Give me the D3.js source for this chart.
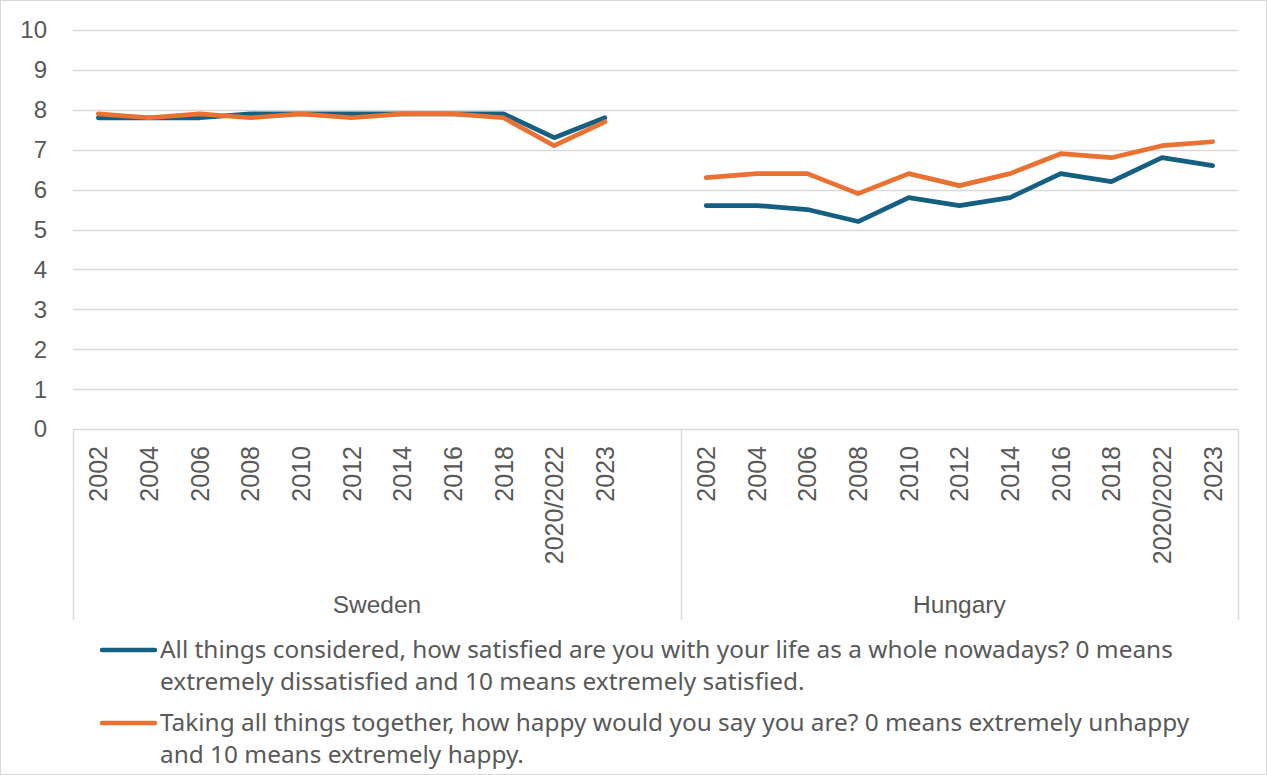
<!DOCTYPE html>
<html>
<head>
<meta charset="utf-8">
<script src="https://cdn.jsdelivr.net/npm/d3@7"></script>
<style>
  html, body { margin: 0; padding: 0; background: #fff; }
  svg { display: block; }
</style>
</head>
<body>
<svg id="chart" width="1267" height="775"></svg>
<script>
// Survey waves per country
const years = ["2002", "2004", "2006", "2008", "2010", "2012", "2014", "2016", "2018", "2020/2022", "2023"];
const countries = ["Sweden", "Hungary"];

// Mean life satisfaction (0-10)
const satisfactionSweden = [7.8, 7.8, 7.8, 7.9, 7.9, 7.9, 7.9, 7.9, 7.9, 7.3, 7.8];
const satisfactionHungary = [5.6, 5.6, 5.5, 5.2, 5.8, 5.6, 5.8, 6.4, 6.2, 6.8, 6.6];

// Mean happiness (0-10)
const happinessSweden = [7.9, 7.8, 7.9, 7.8, 7.9, 7.8, 7.9, 7.9, 7.8, 7.1, 7.7];
const happinessHungary = [6.3, 6.4, 6.4, 5.9, 6.4, 6.1, 6.4, 6.9, 6.8, 7.1, 7.2];

const yTicks = [0, 1, 2, 3, 4, 5, 6, 7, 8, 9, 10];

const seriesNames = [
  ["All things considered, how satisfied are you with your life as a whole nowadays? 0 means",
   "extremely dissatisfied and 10 means extremely satisfied."],
  ["Taking all things together, how happy would you say you are? 0 means extremely unhappy",
   "and 10 means extremely happy."]
];
const colors = ["#156082", "#E97132"];

const svg = d3.select("#chart");
const W = 1267, H = 775;
const plotLeft = 73, plotRight = 1238, plotTop = 30, plotBottom = 429, catBottom = 620;
const gridColor = "#d9d9d9";
const textColor = "#595959";
const axisFont = "'Liberation Sans', Arial, sans-serif";
const axisSize = 25;

// Outer frame
svg.append("rect")
  .attr("x", 0.5).attr("y", 0.5)
  .attr("width", W - 1).attr("height", H - 1)
  .attr("fill", "#fff").attr("stroke", gridColor);

// Category slots: each country's waves, with one empty slot closing the Sweden group
const slots = [];
years.forEach(yr => slots.push("Sweden|" + yr));
slots.push("Sweden|");
years.forEach(yr => slots.push("Hungary|" + yr));

const x = d3.scaleBand().domain(slots).range([plotLeft, plotRight]).paddingInner(0).paddingOuter(0);
const y = d3.scaleLinear().domain([0, 10]).range([plotBottom, plotTop]);

// Horizontal gridlines
svg.append("g")
  .selectAll("line")
  .data(yTicks)
  .join("line")
  .attr("x1", plotLeft).attr("x2", plotRight)
  .attr("y1", d => Math.round(y(d)) + 0.5).attr("y2", d => Math.round(y(d)) + 0.5)
  .attr("stroke", gridColor).attr("stroke-width", 1.3);

// Y axis labels
svg.append("g")
  .selectAll("text")
  .data(yTicks)
  .join("text")
  .attr("x", 47)
  .attr("y", d => y(d))
  .attr("dy", "0.35em")
  .attr("text-anchor", "end")
  .attr("font-family", axisFont)
  .attr("font-size", 24)
  .attr("fill", textColor)
  .text(d => d);

// Multi-level category axis: group dividers
const groupEdges = [plotLeft, x("Hungary|2002"), plotRight];
svg.append("g")
  .selectAll("line")
  .data(groupEdges)
  .join("line")
  .attr("x1", d => Math.round(d) + 0.5).attr("x2", d => Math.round(d) + 0.5)
  .attr("y1", plotBottom).attr("y2", catBottom)
  .attr("stroke", gridColor).attr("stroke-width", 1.3);

// Year labels, rotated
const yearLabels = [];
countries.forEach(c => years.forEach(yr => yearLabels.push({ key: c + "|" + yr, text: yr })));
svg.append("g")
  .selectAll("text")
  .data(yearLabels)
  .join("text")
  .attr("transform", d => `translate(${x(d.key) + x.bandwidth() / 2 + 9},446) rotate(-90)`)
  .attr("text-anchor", "end")
  .attr("font-family", axisFont)
  .attr("font-size", axisSize)
  .attr("fill", textColor)
  .text(d => d.text);

// Country labels
const groupSpans = [
  { name: countries[0], x0: groupEdges[0], x1: groupEdges[1] },
  { name: countries[1], x0: groupEdges[1], x1: groupEdges[2] }
];
svg.append("g")
  .selectAll("text")
  .data(groupSpans)
  .join("text")
  .attr("x", d => (d.x0 + d.x1) / 2)
  .attr("y", 613)
  .attr("text-anchor", "middle")
  .attr("font-family", axisFont)
  .attr("font-size", 24.5)
  .attr("fill", textColor)
  .text(d => d.name);

// Lines: one path per series per country
const line = d3.line()
  .x(d => x(d.key) + x.bandwidth() / 2)
  .y(d => y(d.v));

const toPoints = (country, vals) => vals.map((v, i) => ({ key: country + "|" + years[i], v }));
const paths = [
  { s: 0, pts: toPoints("Sweden", satisfactionSweden) },
  { s: 1, pts: toPoints("Sweden", happinessSweden) },
  { s: 0, pts: toPoints("Hungary", satisfactionHungary) },
  { s: 1, pts: toPoints("Hungary", happinessHungary) }
];
svg.append("g")
  .selectAll("path")
  .data(paths)
  .join("path")
  .attr("d", d => line(d.pts))
  .attr("fill", "none")
  .attr("stroke", d => colors[d.s])
  .attr("stroke-width", 4.7)
  .attr("stroke-linejoin", "round")
  .attr("stroke-linecap", "round");

// Legend
const legendFont = "'Noto Sans', 'Open Sans', sans-serif";
const legendRows = [650, 723];
const legend = svg.append("g");
seriesNames.forEach((lines, i) => {
  legend.append("line")
    .attr("x1", 102).attr("x2", 155)
    .attr("y1", legendRows[i]).attr("y2", legendRows[i])
    .attr("stroke", colors[i]).attr("stroke-width", 4.5)
    .attr("stroke-linecap", "round");
  const t = legend.append("text")
    .attr("x", 160)
    .attr("y", legendRows[i] + 7.5)
    .attr("font-family", legendFont)
    .attr("font-size", 24.4)
    .attr("fill", textColor);
  lines.forEach((ln, j) => {
    t.append("tspan").attr("x", 160).attr("dy", j === 0 ? 0 : 32).text(ln);
  });
});
</script>
</body>
</html>
